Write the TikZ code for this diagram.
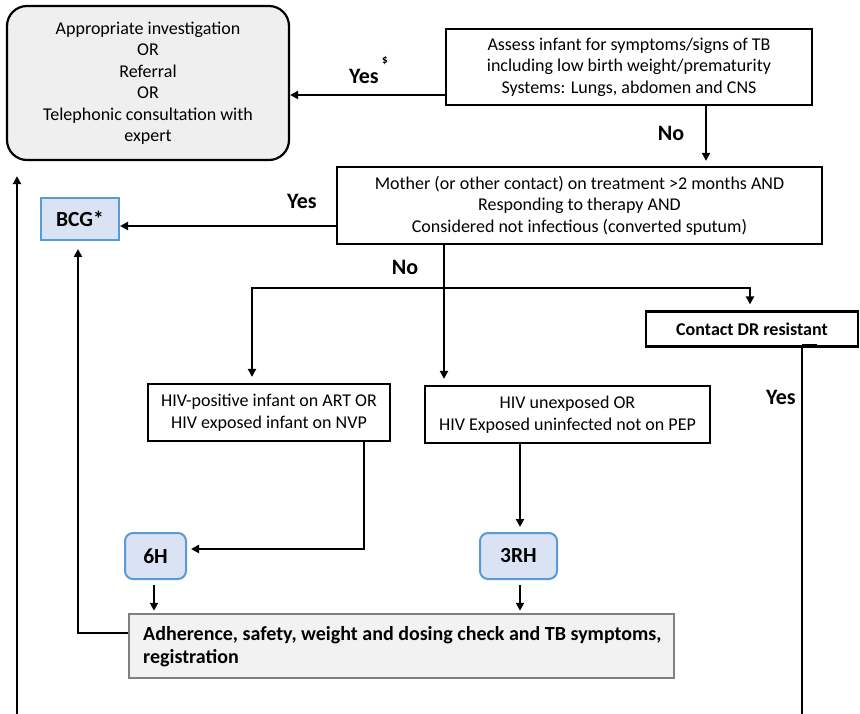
\documentclass[tikz,border=0pt]{standalone}
\usepackage{fontspec}
\setmainfont{Carlito}
\usetikzlibrary{arrows.meta}
\definecolor{bfill}{HTML}{DAE3F3}
\definecolor{bline}{HTML}{5B9BD5}
\definecolor{gfill}{HTML}{EFEFEF}
\definecolor{afill}{HTML}{F2F2F2}
\definecolor{aline}{HTML}{808080}
\tikzset{
  plain/.style={draw=black, line width=2.2pt, align=center, inner sep=0pt, font=\fontsize{18}{21.5}\selectfont},
  bluebox/.style={draw=bline, fill=bfill, line width=2pt, inner sep=0pt, font=\bfseries\fontsize{21.5}{22}\selectfont},
  lbl/.style={font=\bfseries\fontsize{22}{22}\selectfont, inner sep=0pt},
  arr/.style={line width=2pt, -{Triangle[length=8pt,width=8pt]}},
  conn/.style={line width=2pt}
}
\begin{document}
\begin{tikzpicture}[x=1pt,y=-1pt]
\useasboundingbox (0,0) rectangle (860,714);
\fill[white] (0,0) rectangle (860,714);
% nodes
\node[plain, fill=gfill, rounded corners=20pt, minimum width=282, minimum height=154] (tl) at (148,83)
  {Appropriate investigation\\OR\\Referral\\OR\\Telephonic consultation with\\expert};
\node[plain, minimum width=366, minimum height=76] (assess) at (629,67)
  {Assess infant for symptoms/signs of TB\\including low birth weight/prematurity\\Systems: Lungs, abdomen and CNS};
\node[plain, minimum width=485, minimum height=77] (mother) at (579.5,205.5)
  {Mother (or other contact) on treatment >2 months AND\\Responding to therapy AND\\Considered not infectious (converted sputum)};
\node[bluebox, minimum width=78, minimum height=42] (bcg) at (80,219) {BCG*};
\node[plain, minimum width=212, minimum height=35, font=\bfseries\fontsize{18}{20}\selectfont] (dr) at (752,329) {Contact DR resistant};
\node[plain, minimum width=242, minimum height=57] (hivp) at (269,412.5)
  {HIV-positive infant on ART OR\\HIV exposed infant on NVP};
\node[plain, minimum width=285, minimum height=57] (hivu) at (567.5,414.5)
  {HIV unexposed OR\\HIV Exposed uninfected not on PEP};
\node[bluebox, rounded corners=8pt, minimum width=61, minimum height=46] (sixh) at (155.5,556) {6H};
\node[bluebox, rounded corners=8pt, minimum width=77, minimum height=46] (rh) at (518.5,556) {3RH};
\node[draw=aline, fill=afill, line width=2.5pt, minimum width=545, minimum height=64, inner sep=0pt] (adh) at (401.5,646) {};
\node[anchor=west, align=left, inner sep=0pt, font=\bfseries\fontsize{20}{23}\selectfont] (adhtxt) at (143,647)
  {Adherence, safety, weight and dosing check and TB symptoms,\\registration};
% labels
\node[lbl] (l1) at (364,76) {Yes};
\node[inner sep=0pt, font=\bfseries\fontsize{11}{11}\selectfont] (l1s) at (385,61) {\$};
\node[lbl] (l2) at (671,133) {No};
\node[lbl] (l3) at (302,201) {Yes};
\node[lbl] (l4) at (405,267) {No};
\node[lbl] (l5) at (781,397) {Yes};
% connectors
\draw[arr] (assess.west |- 0,95) -- (tl.east |- 0,95);
\draw[arr, shorten >=5pt] (assess.south -| 706,0) -- (mother.north -| 706,0);
\draw[arr] (mother.west |- 0,226) -- (bcg.east |- 0,226);
\coordinate (split) at (444,288);
\draw[arr, shorten >=6pt] (mother.south -| 444,0) -- (hivu.north -| 444,0);
\draw[arr, shorten >=6pt] (split) -| (hivp.north -| 252,0);
\draw[arr, shorten >=6pt] (split) -| (dr.north -| 750,0);
\draw[arr, shorten >=4pt] (hivp.south -| 364,0) |- (sixh.east |- 0,549);
\draw[arr, shorten >=5pt] (hivu.south -| 520,0) -- (rh.north -| 520,0);
\draw[arr, shorten >=2pt, shorten <=5pt] (sixh.south -| 154,0) -- (adh.north -| 154,0);
\draw[arr, shorten >=2pt, shorten <=5pt] (rh.south -| 520,0) -- (adh.north -| 520,0);
\draw[arr, shorten >=8pt] (adh.west |- 0,633) -| (bcg.south -| 78,0);
\coordinate (lb) at (17,714);
\draw[arr, shorten >=15pt] (lb) -- (tl.south -| 17,0);
\coordinate (rb) at (802,714);
\draw[conn] (rb) -- (dr.south -| 802,0);
\draw[line width=3pt] (dr.south -| 802,0) ++(0,-2) -- ++(15,0);
\end{tikzpicture}
\end{document}
